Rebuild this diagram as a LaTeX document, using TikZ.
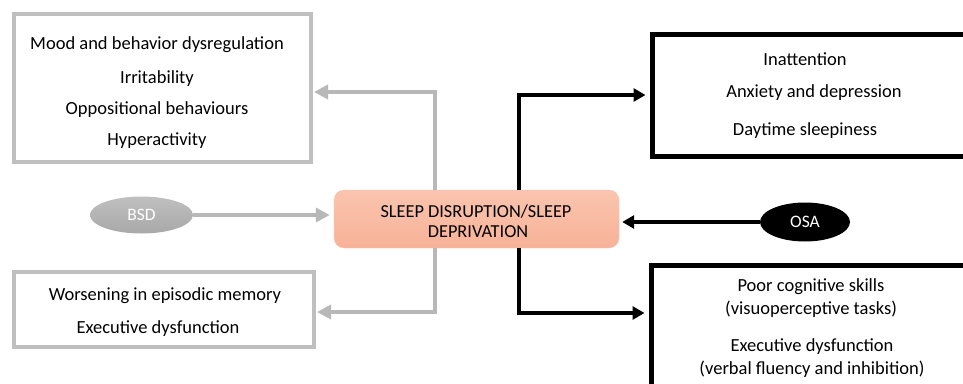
\documentclass[tikz,border=0pt]{standalone}
\usepackage{fontspec}
\setmainfont{Carlito}
\usetikzlibrary{arrows.meta,shapes.geometric}
\definecolor{boxgray}{RGB}{191,191,191}
\definecolor{arrgray}{RGB}{184,184,184}
\definecolor{salmontop}{RGB}{250,196,174}
\definecolor{salmonbot}{RGB}{247,178,152}
\tikzset{gbox/.style = {draw=boxgray, line width=4pt, fill=white, inner sep=0pt},
    kbox/.style = {draw=black, line width=5pt, fill=white, inner sep=0pt},
    t/.style = {inner sep=0pt, font=\fontsize{18.5}{22}\selectfont},
    s/.style = {inner sep=0pt, font=\fontsize{18.3}{22}\selectfont},
    garr/.style = {draw=arrgray, line width=4pt, -{Triangle[width=14pt,length=14pt]}},
    karr/.style = {draw=black, line width=4pt, -{Triangle[width=13pt,length=12pt]}}}

\begin{document}
\begin{tikzpicture}[x=1pt, y=-1pt]
        \useasboundingbox (0,0) rectangle (963,383);
        \clip (0,0) rectangle (963,383);

        % boxes
        \node[gbox, minimum width=297pt, minimum height=148pt] (tl) at (162.5,88) {};
        \node[gbox, minimum width=300pt, minimum height=75pt] (bl) at (164,309.5) {};
        \node[kbox, minimum width=348pt, minimum height=122pt] (tr) at (826,95) {};
        \node[kbox, minimum width=349pt, minimum height=155pt] (br) at (825.5,342.5) {};

        \node[rounded corners=10pt, draw=salmonbot!70!white, top color=salmontop, bottom color=salmonbot,
              minimum width=285pt, minimum height=58pt, inner sep=0pt] (sd) at (476.5,219) {};
        \node[s] (sd1) at (476,212) {SLEEP DISRUPTION/SLEEP};
        \node[s] (sd2) at (478,232) {DEPRIVATION};

        \node[ellipse, top color=gray!50, bottom color=gray!68, minimum width=103pt, minimum height=37pt,
              inner sep=0pt, text=white, font=\fontsize{17.5}{20}\selectfont] (bsd) at (141.5,215) {BSD};
        \node[ellipse, fill=black, minimum width=90pt, minimum height=39pt,
              inner sep=0pt, text=white, font=\fontsize{17.5}{20}\selectfont] (osa) at (805,222) {OSA};

        % texts
        \foreach \n/\x/\y/\txt in {m1/157/45/Mood and behavior dysregulation, m2/157/79/Irritability,
            m3/157/110/Oppositional behaviours, m4/157/141/Hyperactivity,
            w1/165/296/Worsening in episodic memory, w2/158/329/Executive dysfunction,
            i1/805/59/Inattention, i2/814/93/Anxiety and depression, i3/805/131/Daytime sleepiness,
            p1/811/287/Poor cognitive skills, p2/811/309/(visuoperceptive tasks),
            p3/812/347/Executive dysfunction, p4/812/369/(verbal fluency and inhibition)}
            \node[t] (\n) at (\x,\y) {\txt};

        % connectors
        \coordinate (gup) at (435,92);
        \coordinate (gdn) at (435,312);
        \coordinate (kup) at (519,95);
        \coordinate (kdn) at (519,313);

        \draw[garr, shorten >=4pt] (bsd) -- (sd.west |- bsd);
        \draw[karr, shorten >=3pt] (osa) -- (sd.east |- osa);
        \draw[garr, shorten >=1pt] (sd.north -| gup) |- (tl.east |- gup);
        \draw[garr, shorten >=1pt] (sd.south -| gdn) |- (bl.east |- gdn);
        \draw[karr, shorten >=4pt] (sd.north -| kup) |- (tr.west |- kup);
        \draw[karr, shorten >=4pt] (sd.south -| kdn) |- (br.west |- kdn);
    \end{tikzpicture}
\end{document}
